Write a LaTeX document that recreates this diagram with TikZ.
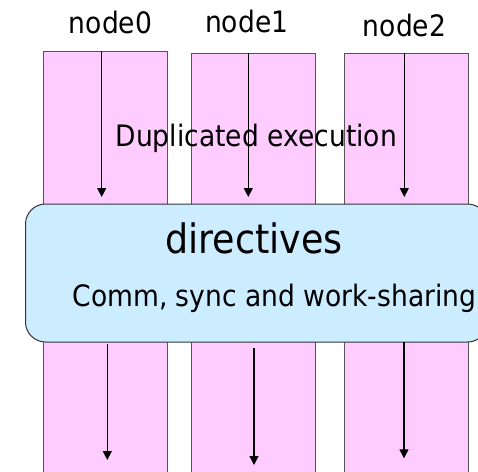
\documentclass[tikz,border=0pt]{standalone}
\usepackage{fontspec}
\setmainfont[FakeStretch=0.9]{DejaVu Sans}
\usetikzlibrary{arrows.meta}
\definecolor{pinkfill}{HTML}{FFCCFF}
\definecolor{bluefill}{HTML}{CCECFF}
\definecolor{edgegray}{HTML}{555555}
\tikzset{
  col/.style={draw=edgegray, fill=pinkfill, line width=1pt, anchor=north west, minimum width=124pt, minimum height=430pt, inner sep=0pt, outer sep=0pt},
  dirbox/.style={draw=black!80, fill=bluefill, line width=1pt, rounded corners=20pt, anchor=north west, minimum width=462pt, minimum height=138pt, inner sep=0pt},
  lbl/.style={font=\fontsize{29.5}{33}\selectfont, anchor=base, inner sep=0pt},
  big/.style={font=\fontsize{40.5}{44}\selectfont, anchor=base, inner sep=0pt},
  flow/.style={line width=1.3pt, -{Triangle[width=9pt,length=9pt]}}
}
\begin{document}
\begin{tikzpicture}[x=1pt,y=-1pt]
\useasboundingbox (0,0) rectangle (478,471);
\node[col] (c0) at (43,51) {};
\node[col] (c1) at (191,53) {};
\node[col] (c2) at (344,53) {};
\node[lbl] (l0) at (110.5,33.3) {node0};
\node[lbl] (l1) at (246.7,32.8) {node1};
\node[lbl] (l2) at (404.5,36.5) {node2};
\node[lbl] (dup) at (256.3,146.7) {Duplicated execution};
\coordinate (t0s) at (101.7,51);  \coordinate (t0e) at (101.7,197);
\coordinate (t1s) at (248.3,53);  \coordinate (t1e) at (248.3,197);
\coordinate (t2s) at (404.3,53);  \coordinate (t2e) at (404.3,197);
\draw[flow] (t0s) -- (t0e);
\draw[flow] (t1s) -- (t1e);
\draw[flow] (t2s) -- (t2e);
\node[dirbox] (dir) at (25,203.5) {};
\node[big] (dirt) at (254,253.3) {directives};
\node[lbl] (comm) at (274.5,306) {Comm, sync and work-sharing};
\coordinate (b0s) at (107.3,344);  \coordinate (b0e) at (107.3,460);
\coordinate (b1s) at (254,348.3);  \coordinate (b1e) at (254,465);
\coordinate (b2s) at (404,342);    \coordinate (b2e) at (404,458.3);
\draw[flow] (b0s) -- (b0e);
\draw[flow] (b1s) -- (b1e);
\draw[flow] (b2s) -- (b2e);
\end{tikzpicture}
\end{document}
